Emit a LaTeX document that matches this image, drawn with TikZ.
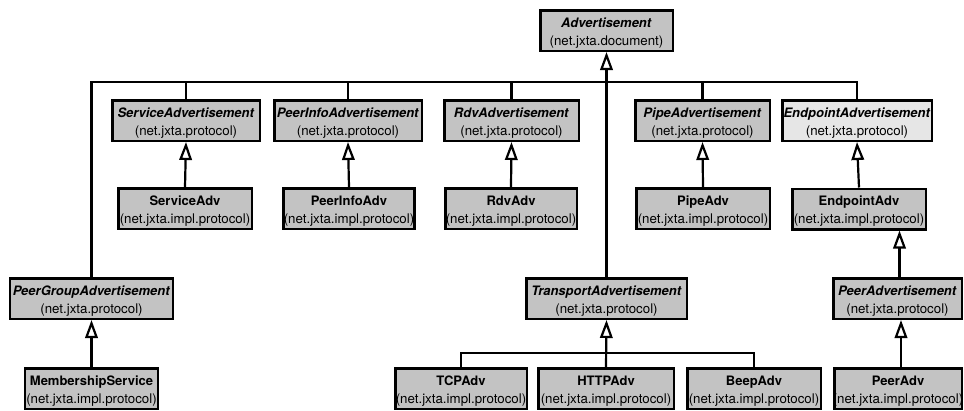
\documentclass[tikz,border=0pt]{standalone}
\usepackage{fontspec}
\setmainfont{TeX Gyre Heros}
\usetikzlibrary{arrows.meta}
\definecolor{boxgray}{RGB}{195,195,195}
\definecolor{boxlight}{RGB}{230,230,230}
\tikzset{
  box/.style={draw=black, line width=2.5bp, fill=boxgray, minimum height=40.5bp, inner sep=0pt},
  lightbox/.style={fill=boxlight},
  conn/.style={draw=black, line width=2.2bp},
  thinconn/.style={draw=black, line width=1.4bp},
  inh/.style={conn, -{Triangle[open, length=18bp, width=12.5bp]}},
  titlelbl/.style={anchor=base, inner sep=0pt, font=\fontsize{13bp}{16bp}\selectfont\bfseries},
  pkglbl/.style={anchor=base, inner sep=0pt, font=\fontsize{13.3bp}{16bp}\selectfont},
}
% #1 name, #2 centre x, #3 top y, #4 width, #5 extra style, #6 class name, #7 package
\newcommand\umlclass[7]{%
  \node[box,#5,minimum width=#4bp] (#1) at (#2,#3+21.5) {};
  \node[titlelbl] (#1-t) at (#2,#3+18) {#6};
  \node[pkglbl] (#1-p) at (#2,#3+36) {#7};
}
\newcommand\abst[1]{\textit{#1}}
\begin{document}
\begin{tikzpicture}[x=1bp, y=-1bp]
  \useasboundingbox (0,0) rectangle (964,410);
  % root
  \umlclass{adv}{606.5}{9}{132.5}{}{\abst{Advertisement}}{(net.jxta.document)}
  % protocol interfaces
  \umlclass{sa}{186}{99}{147.5}{}{\abst{ServiceAdvertisement}}{(net.jxta.protocol)}
  \umlclass{pia}{348}{99}{147.5}{}{\abst{PeerInfoAdvertisement}}{(net.jxta.protocol)}
  \umlclass{ra}{511.5}{99}{134.5}{}{\abst{RdvAdvertisement}}{(net.jxta.protocol)}
  \umlclass{pa}{702.5}{99}{134.5}{}{\abst{PipeAdvertisement}}{(net.jxta.protocol)}
  \umlclass{ea}{857}{99}{149.5}{lightbox}{\abst{EndpointAdvertisement}}{(net.jxta.protocol)}
  % implementations
  \umlclass{sadv}{185}{187}{133.5}{}{ServiceAdv}{(net.jxta.impl.protocol)}
  \umlclass{piadv}{349}{187}{131}{}{PeerInfoAdv}{(net.jxta.impl.protocol)}
  \umlclass{radv}{511}{187}{131.5}{}{RdvAdv}{(net.jxta.impl.protocol)}
  \umlclass{padv}{703}{187}{133.5}{}{PipeAdv}{(net.jxta.impl.protocol)}
  \umlclass{eadv}{859}{187.5}{133.5}{}{EndpointAdv}{(net.jxta.impl.protocol)}
  % third row
  \umlclass{pga}{91.5}{277}{162.5}{}{\abst{PeerGroupAdvertisement}}{(net.jxta.protocol)}
  \umlclass{ta}{606.5}{277}{160.5}{}{\abst{TransportAdvertisement}}{(net.jxta.protocol)}
  \umlclass{peera}{897.5}{277}{128.5}{}{\abst{PeerAdvertisement}}{(net.jxta.protocol)}
  % bottom row
  \umlclass{ms}{91.5}{367}{132.5}{}{MembershipService}{(net.jxta.impl.protocol)}
  \umlclass{tcp}{461}{367}{131.5}{}{TCPAdv}{(net.jxta.impl.protocol)}
  \umlclass{http}{606}{367}{135.5}{}{HTTPAdv}{(net.jxta.impl.protocol)}
  \umlclass{beep}{754}{367}{133.5}{}{BeepAdv}{(net.jxta.impl.protocol)}
  \umlclass{peeradv}{898}{367}{127.5}{}{PeerAdv}{(net.jxta.impl.protocol)}

  % shared bar under the root
  \coordinate (bar) at (606.5,82);
  \draw[inh] (bar) -- (adv.south);
  \draw[conn] (pga.north) |- (ea.north |- bar) -- (ea.north);
  \draw[conn] (sa.north) -- (sa.north |- bar);
  \draw[conn] (pia.north) -- (pia.north |- bar);
  \draw[conn] (ra.north) -- (ra.north |- bar);
  \draw[conn] (pa.north) -- (pa.north |- bar);
  \draw[conn] (ta.north) -- (bar);

  % implementations of the protocol interfaces
  \draw[inh] (sadv.north) -- (sa.south);
  \draw[inh] (piadv.north) -- (pia.south);
  \draw[inh] (radv.north) -- (ra.south);
  \draw[inh] (padv.north) -- (pa.south);
  \draw[inh] (eadv.north) -- (ea.south);
  \draw[inh] (ms.north) -- (pga.south);
  \draw[inh] ([xshift=2bp]peera.north) -- ([xshift=2bp]peera.north |- eadv.south);
  \draw[inh] ([xshift=3bp]peeradv.north) -- ([xshift=3bp]peeradv.north |- peera.south);

  % transports
  \coordinate (tbar) at (606.5,353);
  \draw[inh] (http.north) -- (ta.south);
  \draw[thinconn] (tcp.north) |- (beep.north |- tbar) -- (beep.north);
\end{tikzpicture}
\end{document}
